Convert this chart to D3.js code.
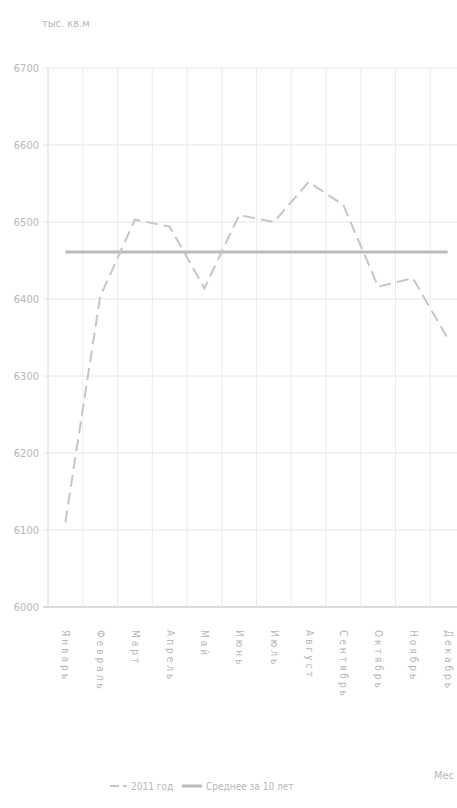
<!DOCTYPE html>
<html>
<head>
<meta charset="utf-8">
<script src="https://cdn.jsdelivr.net/npm/d3@7"></script>
<style>
  body { margin: 0; background: #fff; }
  text { font-family: "Liberation Sans Narrow", "DejaVu Sans Condensed", "Liberation Sans", sans-serif; fill: #b8b8b8; }
</style>
</head>
<body>
<div id="chart"></div>
<script>
// months on x axis
const months = ["Январь", "Февраль", "Март", "Апрель", "Май", "Июнь",
  "Июль", "Август", "Сентябрь", "Октябрь", "Ноябрь", "Декабрь"];
// dashed series
const values2011 = [6110, 6403, 6503, 6494, 6414, 6509, 6500, 6552, 6522, 6416, 6427, 6349];
// flat reference line
const averageValue = 6461;
const yTicks = [6000, 6100, 6200, 6300, 6400, 6500, 6600, 6700];
const legendLabels = ["2011 год", "Среднее за 10 лет"];

const width = 457;
const height = 808;
const margin = { top: 68, right: -8, bottom: 201, left: 48 };

const svg = d3.select("#chart")
  .append("svg")
  .attr("width", width)
  .attr("height", height);

const x = d3.scaleBand()
  .domain(months)
  .range([margin.left, width - margin.right]);

const y = d3.scaleLinear()
  .domain([6000, 6700])
  .range([height - margin.bottom, margin.top]);

// horizontal grid
svg.append("g")
  .selectAll("line")
  .data(yTicks)
  .enter().append("line")
  .attr("x1", margin.left - 5)
  .attr("x2", width)
  .attr("y1", (d) => y(d))
  .attr("y2", (d) => y(d))
  .attr("stroke", (d, i) => (i === 0 ? "#cfcfcf" : "#e6e6e6"))
  .attr("stroke-width", (d, i) => (i === 0 ? 1.5 : 1));

// vertical grid between months
svg.append("g")
  .selectAll("line")
  .data(months.slice(1))
  .enter().append("line")
  .attr("x1", (d) => x(d))
  .attr("x2", (d) => x(d))
  .attr("y1", margin.top)
  .attr("y2", y(6000))
  .attr("stroke", "#ececec");

// y axis line
svg.append("line")
  .attr("x1", margin.left).attr("x2", margin.left)
  .attr("y1", margin.top).attr("y2", y(6000))
  .attr("stroke", "#d8d8d8");

// y labels
svg.append("g")
  .selectAll("text")
  .data(yTicks)
  .enter().append("text")
  .attr("x", 39)
  .attr("y", (d) => y(d))
  .attr("dy", "0.35em")
  .attr("text-anchor", "end")
  .style("font-size", "11px")
  .text((d) => d);

// x labels, rotated
svg.append("g")
  .selectAll("text")
  .data(months)
  .enter().append("text")
  .attr("transform", (d) => `translate(${x(d) + x.bandwidth() / 2 - 3},630) rotate(90)`)
  .style("font-size", "10px")
  .style("letter-spacing", "3px")
  .text((d) => d);

// titles
svg.append("text").attr("x", 42).attr("y", 27).style("font-size", "11px").text("тыс. кв.м");
svg.append("text").attr("x", 454).attr("y", 779).attr("text-anchor", "end")
  .style("font-size", "11px").text("Мес");

const line = d3.line()
  .x((d, i) => x(months[i]) + x.bandwidth() / 2)
  .y((d) => y(d));

// average line
svg.append("line")
  .attr("x1", x(months[0]) + x.bandwidth() / 2)
  .attr("x2", x(months[11]) + x.bandwidth() / 2)
  .attr("y1", y(averageValue))
  .attr("y2", y(averageValue))
  .attr("stroke", "#bcbcbc")
  .attr("stroke-width", 3);

// 2011 dashed line
svg.append("path")
  .datum(values2011)
  .attr("d", line)
  .attr("fill", "none")
  .attr("stroke", "#c6c6c6")
  .attr("stroke-width", 2)
  .attr("stroke-dasharray", "12,6");

// legend
const legend = svg.append("g").attr("transform", "translate(0,786)");
legend.append("line").attr("x1", 110).attr("x2", 127).attr("y1", 0).attr("y2", 0)
  .attr("stroke", "#c6c6c6").attr("stroke-width", 2).attr("stroke-dasharray", "9,4");
legend.append("text").attr("x", 131).attr("y", 4).style("font-size", "10px").text(legendLabels[0]);
legend.append("line").attr("x1", 182).attr("x2", 202).attr("y1", 0).attr("y2", 0)
  .attr("stroke", "#bcbcbc").attr("stroke-width", 3);
legend.append("text").attr("x", 206).attr("y", 4).style("font-size", "10px").text(legendLabels[1]);
</script>
</body>
</html>
